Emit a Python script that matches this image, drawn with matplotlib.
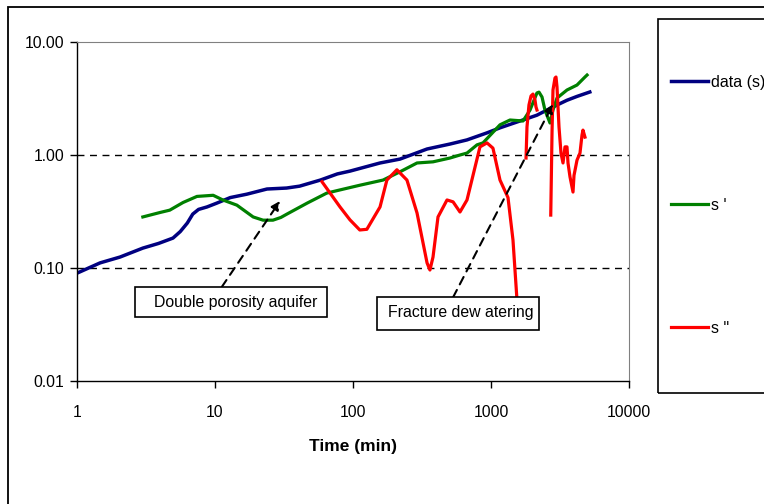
import matplotlib
matplotlib.use("Agg")
import matplotlib.pyplot as plt
import numpy as np
from matplotlib.patches import Rectangle

plt.rcParams['font.family'] = ['Liberation Sans', 'DejaVu Sans']

# drawdown data (s) against time
t_data = [1, 1.47, 2.05, 3.0, 3.9, 4.96, 5.6, 6.3, 6.9, 7.6, 8.75, 10.3, 12.9, 17.0, 23.8,
          33, 41, 58, 77, 95, 157, 219, 344, 504, 670, 935, 1162, 1622, 2150, 2545,
          3160, 3550, 4200, 5200]
s_data = [0.090, 0.111, 0.125, 0.150, 0.165, 0.184, 0.210, 0.250, 0.300, 0.330, 0.347, 0.375,
          0.42, 0.45, 0.50, 0.51, 0.53, 0.60, 0.68, 0.72, 0.85, 0.92, 1.13, 1.25, 1.36, 1.57,
          1.74, 2.0, 2.25, 2.5, 2.85, 3.05, 3.3, 3.61]

# first derivative s'
t_d1 = [3.0, 4.0, 4.7, 5.87, 7.4, 9.7, 11.4, 14.4, 18.9, 22.3, 26.3, 30, 33.2, 46.5, 64.5,
        80, 112, 165, 219, 291, 380, 504, 596, 670, 792, 875, 1162, 1373, 1706, 1918, 2153,
        2228, 2342, 2460, 2676, 2813, 3008, 3554, 4199, 4798, 4966]
s_d1 = [0.283, 0.31, 0.325, 0.38, 0.43, 0.44, 0.40, 0.36, 0.283, 0.265, 0.265, 0.28, 0.30,
        0.375, 0.46, 0.49, 0.54, 0.60, 0.71, 0.85, 0.87, 0.94, 1.0, 1.04, 1.23, 1.28, 1.85,
        2.04, 2.0, 2.5, 3.54, 3.6, 3.26, 2.5, 1.92, 2.5, 3.19, 3.76, 4.16, 4.9, 5.1]

# second derivative s'' (gaps where it is negative)
t_d2 = [59.6, 80.5, 95, 112, 126, 157, 176, 208, 246, 291, 344, 361, 380, 413, 480, 531,
        596, 670, 832, 935, 1033, 1162, 1328, 1443, 1543, np.nan,
        1794, 1823, 1884, 1950, 2015, 2083, 2119, 2153, np.nan,
        2710, 2770, 2813, 2908, 2958, 3008, 3110, 3215, 3325, 3437, 3554, 3614, 3737, 3929,
        3995, 4199, 4414, 4564, 4640, 4798]
s_d2 = [0.58, 0.347, 0.267, 0.217, 0.22, 0.347, 0.60, 0.74, 0.60, 0.307, 0.111, 0.096, 0.125,
        0.283, 0.40, 0.385, 0.313, 0.40, 1.18, 1.28, 1.15, 0.60, 0.42, 0.177, 0.052, np.nan,
        0.94, 1.77, 2.77, 3.33, 3.46, 3.07, 2.66, 2.5, np.nan,
        0.294, 1.66, 3.76, 4.8, 4.9, 4.0, 1.77, 1.04, 0.85, 1.18, 1.18, 0.85, 0.64, 0.47,
        0.66, 0.90, 1.04, 1.50, 1.66, 1.44]

x_ticks = [1, 10, 100, 1000, 10000]
y_ticks = [0.01, 0.1, 1, 10]

# annotation arrows (tip, tail) in data units
arrow1 = ((29.6, 0.392), (11.2, 0.068))
arrow2 = ((2813, 2.82), (531, 0.055))

W, H = 764, 504
fig = plt.figure(figsize=(W / 100, H / 100), dpi=100)
ax = fig.add_axes([77 / W, 1 - 381 / H, (629 - 77) / W, (381 - 42) / H])

l1, = ax.plot(t_data, s_data, color='#000080', lw=2.5, label='data (s)')
l2, = ax.plot(t_d1, s_d1, color='#008000', lw=2.3, label="s '")
l3, = ax.plot(t_d2, s_d2, color='#ff0000', lw=2.3, label='s "')

ax.set_xscale('log')
ax.set_yscale('log')
ax.set_xlim(1, 10000)
ax.set_ylim(0.01, 10)
ax.set_xticks(x_ticks)
ax.set_xticklabels([str(v) for v in x_ticks])
ax.set_yticks(y_ticks)
ax.set_yticklabels(['%.2f' % v for v in y_ticks])
ax.minorticks_off()
ax.tick_params(axis='both', labelsize=11.3, length=5, width=1, direction='out')
ax.tick_params(axis='x', pad=12)
ax.tick_params(axis='y', pad=4)

for v in [0.1, 1]:
    ax.axhline(v, color='black', lw=1, ls=(0, (5, 4)), zorder=0)

for side in ['top', 'right']:
    ax.spines[side].set_color('#808080')
ax.spines['left'].set_linewidth(1)
ax.spines['bottom'].set_linewidth(1)

ax.set_xlabel('Time (min)', fontsize=12.5, fontweight='bold', labelpad=14)

for tip, tail in [arrow1, arrow2]:
    ax.annotate('', xy=tip, xytext=tail,
                arrowprops=dict(arrowstyle='-|>', color='black', lw=1.5, ls=(0, (4, 3)),
                                mutation_scale=13, shrinkA=0, shrinkB=0))

# text boxes
boxes = [((135, 287, 327, 317), 'Double porosity aquifer', 236, 302),
         ((377, 297, 539, 330), 'Fracture dew atering', 461, 313)]
for (x0, y0, x1, y1), txt, cx, cy in boxes:
    fig.add_artist(Rectangle((x0 / W, 1 - y1 / H), (x1 - x0) / W, (y1 - y0) / H,
                             transform=fig.transFigure, fc='white', ec='black', lw=1.2))
    fig.text(cx / W, 1 - cy / H, txt, fontsize=11.4, ha='center', va='center')

# outer chart border and legend frame
fig.add_artist(Rectangle((8 / W, -0.1), 1.2, 1 - 7 / H + 0.1, transform=fig.transFigure,
                         fill=False, ec='black', lw=1.3))
fig.add_artist(Rectangle((658 / W, 1 - 393 / H), 0.3, (393 - 19) / H,
                         transform=fig.transFigure, fill=False, ec='black', lw=1.2))

fig.legend(handles=[l1, l2, l3], loc='upper left', bbox_to_anchor=(671 / W, 1 - 75 / H),
           frameon=False, fontsize=11.5, borderpad=0, borderaxespad=0, handlelength=2.3,
           handletextpad=0.2, labelspacing=6.75)

fig.savefig('out.png', dpi=100)
